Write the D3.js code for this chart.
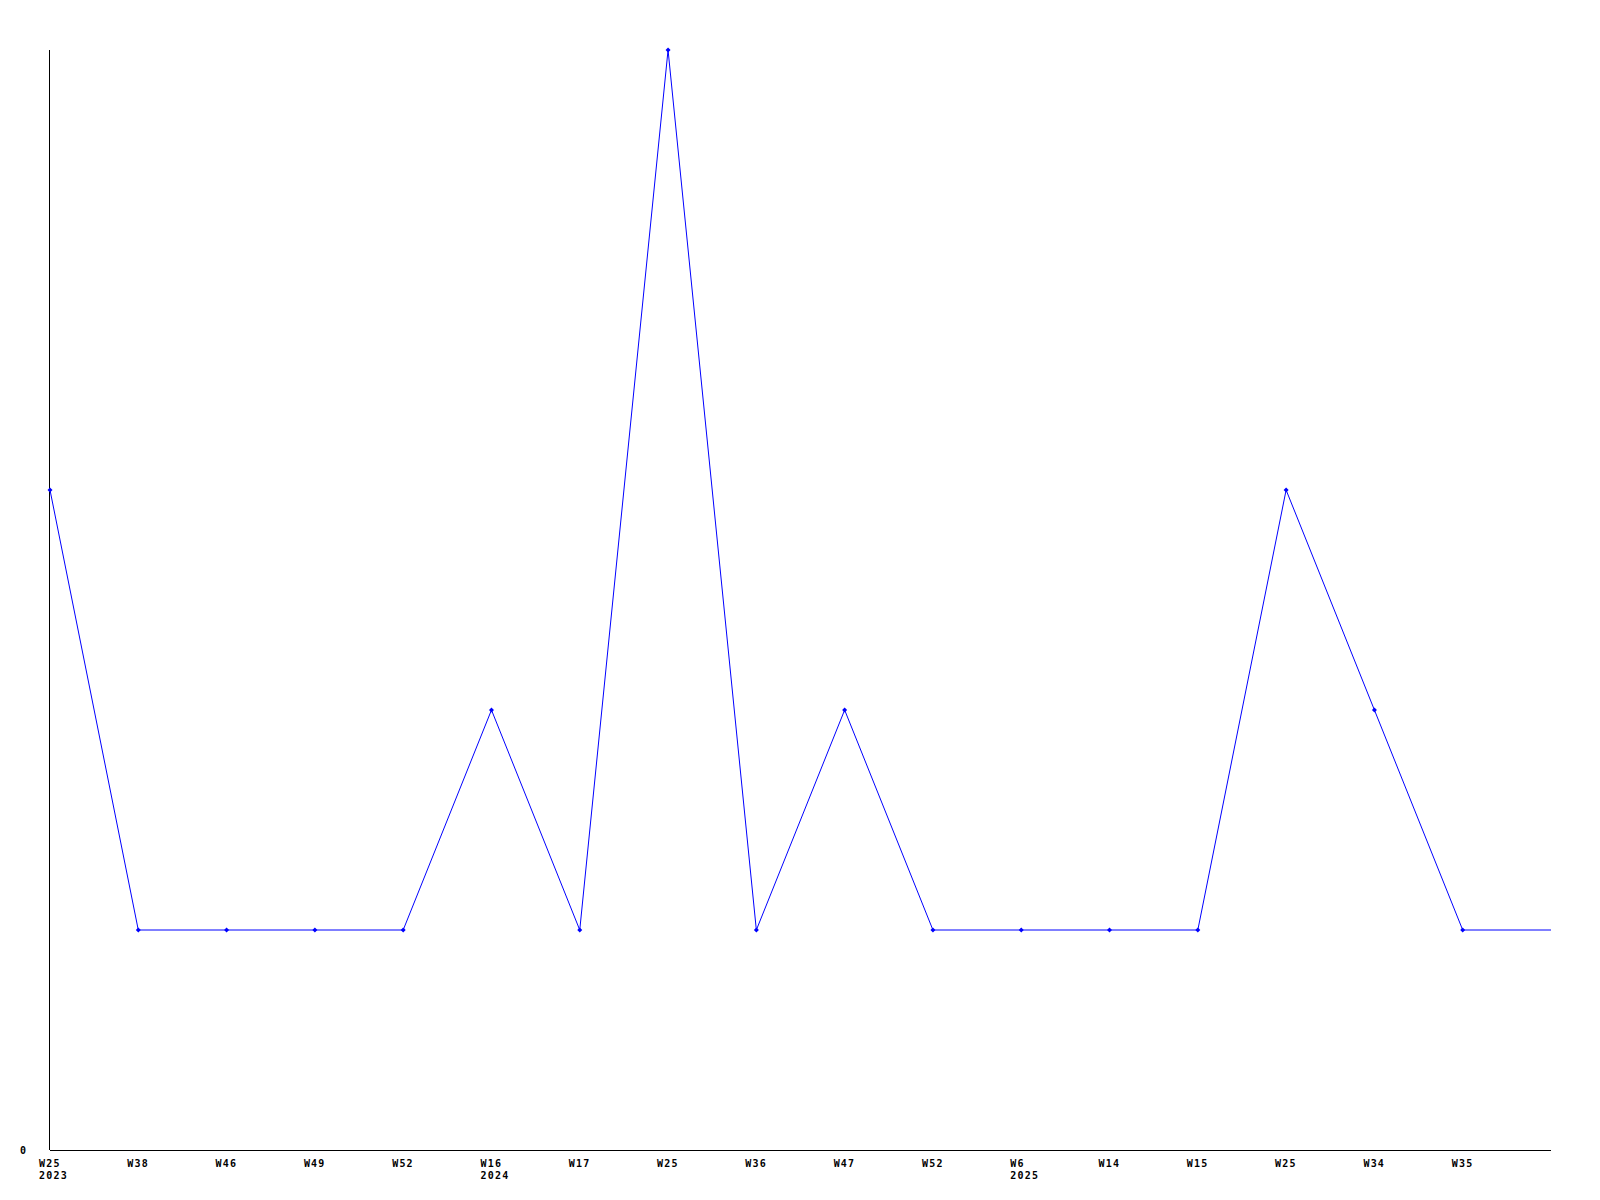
<!DOCTYPE html>
<html>
<head>
<meta charset="utf-8">
<script src="https://cdn.jsdelivr.net/npm/d3@7"></script>
<style>
  html, body { margin: 0; padding: 0; background: #fff; }
  svg text { font-family: "DejaVu Sans Mono", monospace; font-weight: bold; font-size: 10px; fill: #000; }
</style>
</head>
<body>
<svg id="chart" width="1600" height="1200"></svg>
<script>
const weekLabels = ["W25","W38","W46","W49","W52","W16","W17","W25","W36","W47","W52","W6","W14","W15","W25","W34","W35",""];
const yearLabels = ["2023","","","","","2024","","","","","","2025","","","","","",""];
const values = [3,1,1,1,1,2,1,5,1,2,1,1,1,1,3,2,1,1];
const yTicks = [0];

const svg = d3.select("#chart");
const mLeft = 50, mRight = 1551, mTop = 50, mBottom = 1150;

const idx = values.map((d, i) => i);
const x = d3.scalePoint().domain(idx).range([mLeft, mRight]);
const y = d3.scaleLinear().domain([0, 5]).range([mBottom, mTop]);

// axes
const xAxis = svg.append("g")
  .attr("transform", `translate(0,${mBottom})`)
  .call(d3.axisBottom(x).tickSize(0).tickFormat(i => weekLabels[i]));
xAxis.select(".domain").attr("stroke", "#000").attr("d", `M${mLeft},0.5H${mRight}`);
xAxis.selectAll(".tick text")
  .attr("text-anchor", "start").attr("x", -11.5).attr("y", 17).attr("dy", null);
xAxis.selectAll(".tick").each(function(i) {
  if (yearLabels[i]) {
    d3.select(this).append("text")
      .attr("x", -11.5).attr("y", 29).attr("text-anchor", "start")
      .attr("fill", "#000")
      .text(yearLabels[i]);
  }
});
xAxis.attr("font-family", null).attr("font-size", null);
xAxis.selectAll("text").style("letter-spacing", "1.2px");

const yAxis = svg.append("g")
  .attr("transform", `translate(${mLeft},0)`)
  .call(d3.axisLeft(y).tickValues(yTicks).tickSize(0).tickPadding(24).tickFormat(d3.format("d")));
yAxis.select(".domain").attr("stroke", "#000").attr("d", `M-0.5,${mTop}V${mBottom}`);
yAxis.attr("font-family", null).attr("font-size", null);

// line
const line = d3.line().x((d, i) => x(i)).y(d => y(d));
svg.append("path")
  .datum(values)
  .attr("fill", "none")
  .attr("stroke", "#0000ff")
  .attr("stroke-width", 1)
  .attr("d", line);

// markers
svg.append("g").selectAll("path")
  .data(values.map((v, i) => ({v, i})).filter(d => weekLabels[d.i] !== ""))
  .join("path")
  .attr("transform", d => `translate(${x(d.i)},${y(d.v)})`)
  .attr("d", "M0,-2.5L2.5,0L0,2.5L-2.5,0Z")
  .attr("fill", "#0000ff");
</script>
</body>
</html>
